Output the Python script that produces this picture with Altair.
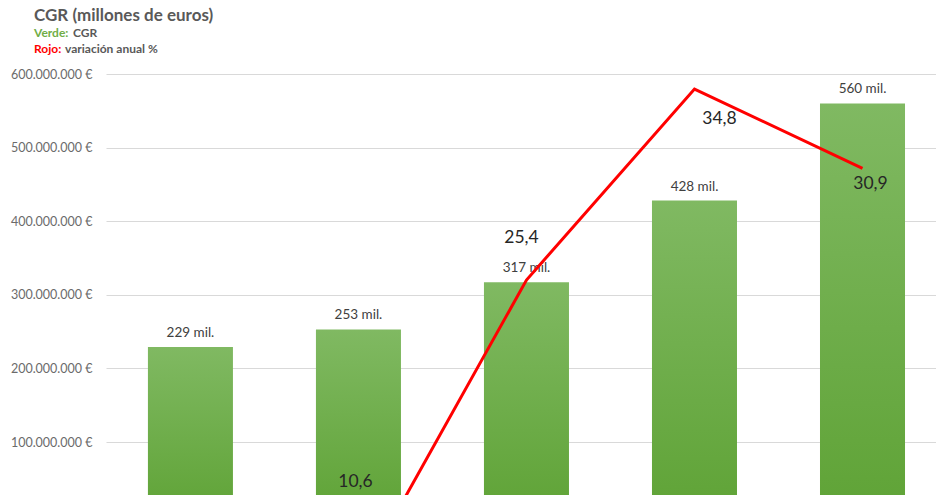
import altair as alt
import pandas as pd

# ---- data ----
anios = ["2015", "2016", "2017", "2018", "2019"]
cgr = [229e6, 253e6, 317e6, 428e6, 560e6]
variacion = [None, 10.6, 25.4, 34.8, 30.9]
variacion_txt = ["", "10,6", "25,4", "34,8", "30,9"]
y_ticks = [100e6, 200e6, 300e6, 400e6, 500e6, 600e6]

df = pd.DataFrame({"anio": anios, "cgr": cgr, "variacion": variacion, "vtxt": variacion_txt})

FONT = "Lato"

x_enc = alt.X(
    "anio:N", sort=anios, axis=None,
    scale=alt.Scale(paddingInner=0.494, paddingOuter=0.217, align=0.575),
)
y_scale = alt.Scale(domain=[28.0e6, 600e6], zero=False, nice=False)
v_scale = alt.Scale(domain=[14.82, 35.54], zero=False, nice=False)

base = alt.Chart(df)

bars = base.mark_bar(
    clip=True,
    color=alt.Gradient(
        gradient="linear",
        stops=[alt.GradientStop(color="#80b962", offset=0),
               alt.GradientStop(color="#5fa336", offset=1)],
        x1=0, x2=0, y1=0, y2=1,
    ),
).encode(
    x=x_enc,
    y=alt.Y("cgr:Q", scale=y_scale,
            axis=alt.Axis(values=y_ticks, title=None, domain=False, ticks=False,
                          labelExpr="replace(replace(format(datum.value, ','), ',', '.'), ',', '.') + ' €'")),
    y2=alt.datum(0),
)

bar_labels = base.transform_calculate(
    lbl="format(datum.cgr / 1000000, '.0f') + ' mil.'"
).mark_text(dy=-10, baseline="alphabetic", fontSize=13.5, font=FONT, color="#404040").encode(
    x=x_enc,
    y=alt.Y("cgr:Q", scale=y_scale),
    text="lbl:N",
)

bar_layer = alt.layer(bars, bar_labels)

line = base.transform_filter("isValid(datum.variacion)").mark_line(
    color="#ff0000", strokeWidth=3, clip=True
).encode(
    x=x_enc,
    y=alt.Y("variacion:Q", scale=v_scale, axis=None),
)

offsets = {"2016": (-3, -94), "2017": (-5, -37), "2018": (25, 35), "2019": (8, 21)}
line_labels = []
for a, (ddx, ddy) in offsets.items():
    line_labels.append(
        base.transform_filter(f"datum.anio == '{a}'").mark_text(
            dx=ddx, dy=ddy, baseline="alphabetic", fontSize=17.5, font=FONT, color="#262626"
        ).encode(
            x=x_enc,
            y=alt.Y("variacion:Q", scale=v_scale, axis=None),
            text="vtxt:N",
        )
    )

line_layer = alt.layer(line, *line_labels)

one = alt.Chart(pd.DataFrame({"k": [0]}))


def note(txt, x, y, color, size, weight="bold"):
    return one.mark_text(
        align="left", baseline="alphabetic", font=FONT, fontSize=size,
        fontWeight=weight, color=color,
    ).encode(x=alt.value(x), y=alt.value(y), text=alt.value(txt))


notes = alt.layer(
    note("CGR (millones de euros)", -72, -53, "#595959", 17),
    note("Verde:", -72, -37, "#70ad47", 12),
    note("CGR", -33, -37, "#595959", 12),
    note("Rojo:", -72, -21, "#ff0000", 12),
    note("variación anual %", -41, -21, "#595959", 12),
)

chart = alt.layer(bar_layer, line_layer, notes).resolve_scale(
    y="independent"
).properties(
    width=830, height=421,
    autosize=alt.AutoSizeParams(type="none"),
    padding={"left": 106, "top": 74, "right": 0, "bottom": 0},
    background="white",
).configure_view(stroke=None).configure_axis(
    labelFont=FONT, labelFontSize=12.5, labelColor="#6b6b6b", labelPadding=14,
    gridColor="#d9d9d9", gridWidth=1,
)

chart.save("out.html", embed_options={"renderer": "svg", "actions": False})
